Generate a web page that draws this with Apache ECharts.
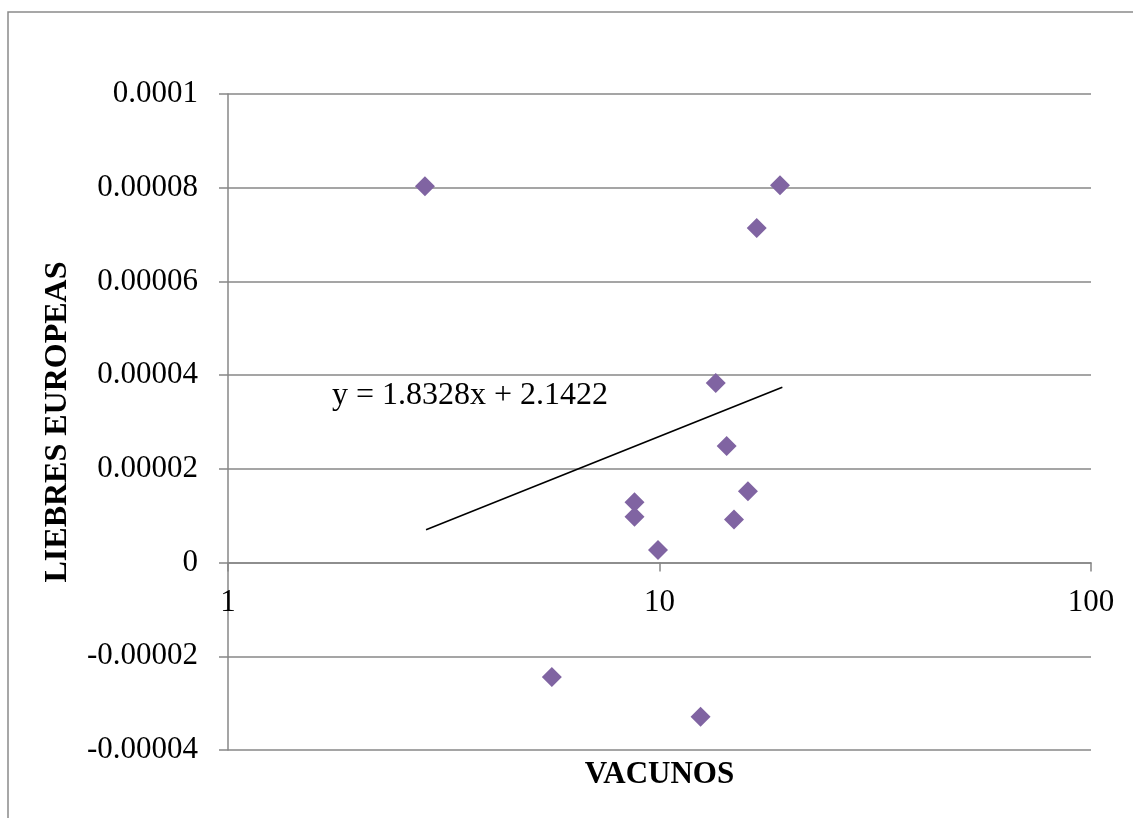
<!DOCTYPE html>
<html>
<head>
<meta charset="utf-8">
<style>
html,body{margin:0;padding:0;background:#fff;}
#chart{width:1133px;height:818px;}
</style>
<script src="https://cdn.jsdelivr.net/npm/echarts@6/dist/echarts.min.js"></script>
</head>
<body>
<div id="chart"></div>
<script>
// Data
const vacunos = [2.86, 19.02, 16.80, 13.50, 14.31, 16.03, 14.88, 8.75, 8.75, 9.92, 5.63, 12.45];
const liebres = [0.0000803, 0.0000805, 0.0000714, 0.0000383, 0.0000249, 0.0000152, 0.0000092, 0.0000129, 0.0000098, 0.0000027, -0.0000244, -0.0000329];
const trendX = [2.877, 19.26];
const trendY = [0.0000070, 0.0000374];
const xTickLabels = ['1', '10', '100'];
const yTickLabels = ['-0.00004', '-0.00002', '0', '0.00002', '0.00004', '0.00006', '0.00008', '0.0001'];
const equationText = 'y = 1.8328x + 2.1422';
const xTitle = 'VACUNOS';
const yTitle = 'LIEBRES EUROPEAS';

const yMin = -0.00004, yMax = 0.0001, yStep = 0.00002;
const font = '"Liberation Serif", "Times New Roman", serif';
const gridColor = '#878787';

const scatterData = vacunos.map((x, i) => [x, liebres[i]]);
const trendData = trendX.map((x, i) => [x, trendY[i]]);

const gridTop = 94, gridBottom = 68, chartH = 818;
const plotH = chartH - gridTop - gridBottom;
// x axis crosses the value axis at y = 0
const zeroOffset = -plotH * (0 - yMin) / (yMax - yMin);

const chart = echarts.init(document.getElementById('chart'));
chart.setOption({
  animation: false,
  backgroundColor: '#fff',
  grid: { left: 228, right: 42, top: gridTop, bottom: gridBottom, containLabel: false },
  xAxis: {
    type: 'log',
    logBase: 10,
    min: 1,
    max: 100,
    offset: zeroOffset,
    axisLine: { onZero: false, lineStyle: { color: gridColor, width: 1.5 } },
    axisTick: { show: true, length: 9, lineStyle: { color: gridColor, width: 1.5 } },
    minorTick: { show: false },
    splitLine: { show: false },
    axisLabel: {
      margin: 25,
      color: '#000',
      fontFamily: font,
      fontSize: 31,
      formatter: function (v) {
        const idx = Math.round(Math.log10(v));
        return xTickLabels[idx] !== undefined ? xTickLabels[idx] : String(v);
      }
    }
  },
  yAxis: {
    type: 'value',
    min: yMin,
    max: yMax,
    interval: yStep,
    name: yTitle,
    nameLocation: 'middle',
    nameGap: 154,
    nameRotate: 90,
    nameTextStyle: { color: '#000', fontFamily: font, fontSize: 32, fontWeight: 'bold' },
    axisLine: { show: true, onZero: false, lineStyle: { color: gridColor, width: 1.5 } },
    axisTick: { show: true, length: 9, inside: false, lineStyle: { color: gridColor, width: 1.5 } },
    splitLine: { show: true, lineStyle: { color: gridColor, width: 1.5 } },
    axisLabel: {
      margin: 30,
      color: '#000',
      fontFamily: font,
      fontSize: 31,
      formatter: function (v) {
        const idx = Math.round((v - yMin) / yStep);
        return yTickLabels[idx] !== undefined ? yTickLabels[idx] : String(v);
      }
    }
  },
  series: [
    {
      type: 'line',
      data: trendData,
      symbol: 'none',
      lineStyle: { color: '#000', width: 1.6 },
      z: 3,
      silent: true
    },
    {
      type: 'scatter',
      data: scatterData,
      symbol: 'diamond',
      symbolSize: 20,
      itemStyle: { color: '#8064A2', opacity: 1 },
      z: 4
    }
  ],
  graphic: [
    {
      type: 'rect',
      shape: { x: 8, y: 12, width: 1300, height: 1000 },
      style: { fill: 'none', stroke: '#8a8a8a', lineWidth: 1.5 },
      silent: true,
      z: -1
    },
    {
      type: 'text',
      left: 332,
      top: 380,
      style: { text: equationText, fill: '#000', font: '32px ' + font }
    },
    {
      type: 'text',
      x: 659.5,
      y: 775,
      style: { text: xTitle, fill: '#000', font: 'bold 31px ' + font, align: 'center', verticalAlign: 'middle' }
    }
  ]
});
</script>
</body>
</html>
